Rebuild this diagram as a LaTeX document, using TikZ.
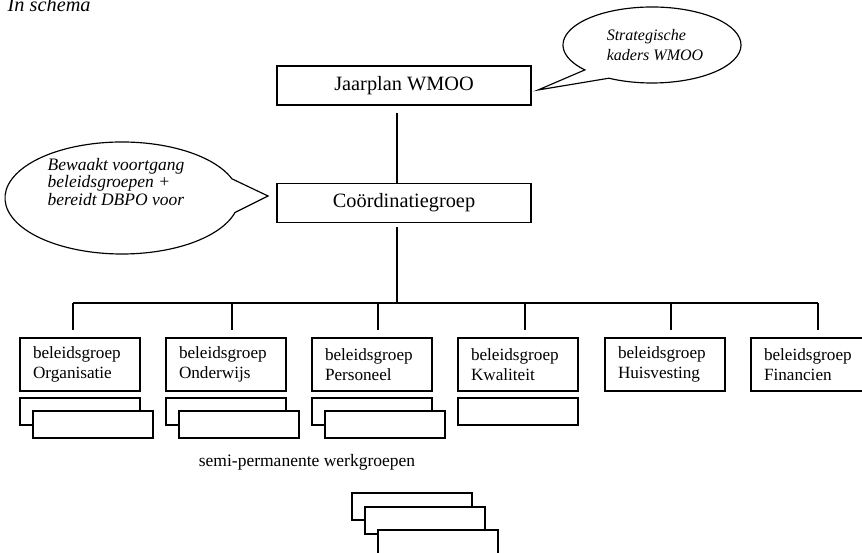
\documentclass[tikz,border=0pt]{standalone}
\usepackage{fontspec}
\setmainfont{Liberation Serif}
\begin{document}
\begin{tikzpicture}[x=0.6pt,y=0.6pt,line width=0.75pt,
  bigbox/.style={draw,fill=white,inner sep=0pt,minimum width=152.4pt,minimum height=23.4pt,font=\fontsize{12.2}{14}\selectfont},
  groupbox/.style={draw,fill=white,inner xsep=7.8pt,inner ysep=0pt,text width=56.4pt,align=left,minimum height=31.8pt,font=\fontsize{10.3}{12}\selectfont},
  subbox/.style={draw,fill=white,inner sep=0pt,minimum width=72pt,minimum height=16.2pt},
  bubtext/.style={inner sep=0pt,align=left,font=\itshape\fontsize{10.5}{8.8}\selectfont},
  bubline/.style={draw,fill=white,line width=0.7pt}]
\useasboundingbox (0,0) rectangle (862,553);

% title
\node[anchor=base west,inner sep=0pt,font=\itshape\fontsize{12.2}{14}\selectfont] (title) at (7,541) {In schema};

% bubbles
\path[bubline] ({652+89*cos(241)},{508+38*sin(241)}) arc[start angle=241,end angle=581,x radius=89,y radius=38] -- (538,463) -- cycle;
\node[bubtext,font=\itshape\fontsize{9.6}{12.2}\selectfont] (strat) at (655,508) {Strategische\\kaders WMOO};

\path[bubline] ({122+117*cos(20)},{355+56*sin(20)}) arc[start angle=20,end angle=345,x radius=117,y radius=56] -- (268,357) -- cycle;
\node[bubtext] (bewaakt) at (116,371) {Bewaakt voortgang\\beleidsgroepen +\\bereidt DBPO voor};

% main boxes
\node[bigbox] (jaar) at (404,467.5) {Jaarplan WMOO};
\node[bigbox] (coord) at (404,350) {Coördinatiegroep};

\coordinate (spine) at (397,250);
\draw[shorten <=4.2pt] (jaar.south -| spine) -- (coord.north -| spine);
\draw[shorten <=2.4pt] (coord.south -| spine) -- (spine);
\coordinate (barL) at (73,250);
\coordinate (barR) at (818,250);
\draw (barL) -- (barR);

% policy groups
\node[groupbox] (b1) at (80,188.5) {beleidsgroep\\Organisatie};
\node[groupbox] (b2) at (226,188.5) {beleidsgroep\\Onderwijs};
\node[groupbox] (b3) at (372,188.5) {beleidsgroep\\Personeel};
\node[groupbox] (b4) at (518,188.5) {beleidsgroep\\Kwaliteit};
\node[groupbox] (b5) at (665,188.5) {beleidsgroep\\Huisvesting};
\node[groupbox] (b6) at (811,188.5) {beleidsgroep\\Financien};

\foreach \i/\x in {1/73,2/232,3/378,4/525,5/671,6/818}{
  \coordinate (d\i) at (\x,250);
  \draw[shorten >=4.2pt] (d\i) -- (d\i |- b\i.north);
}

% working groups under the policy groups
\node[subbox] (w1a) at (80,141.5) {};
\node[subbox] (w1b) at (93,128.5) {};
\node[subbox] (w2a) at (226,141.5) {};
\node[subbox] (w2b) at (239,128.5) {};
\node[subbox] (w3a) at (372,141.5) {};
\node[subbox] (w3b) at (385,128.5) {};
\node[subbox] (w4a) at (518,141.5) {};

\node[inner sep=0pt,font=\fontsize{10.5}{12}\selectfont] (semi) at (307,91) {semi-permanente werkgroepen};

% stack at the bottom
\node[subbox] (s1) at (412,46.5) {};
\node[subbox] (s2) at (425,32.5) {};
\node[subbox] (s3) at (438,9.5) {};
\end{tikzpicture}
\end{document}
